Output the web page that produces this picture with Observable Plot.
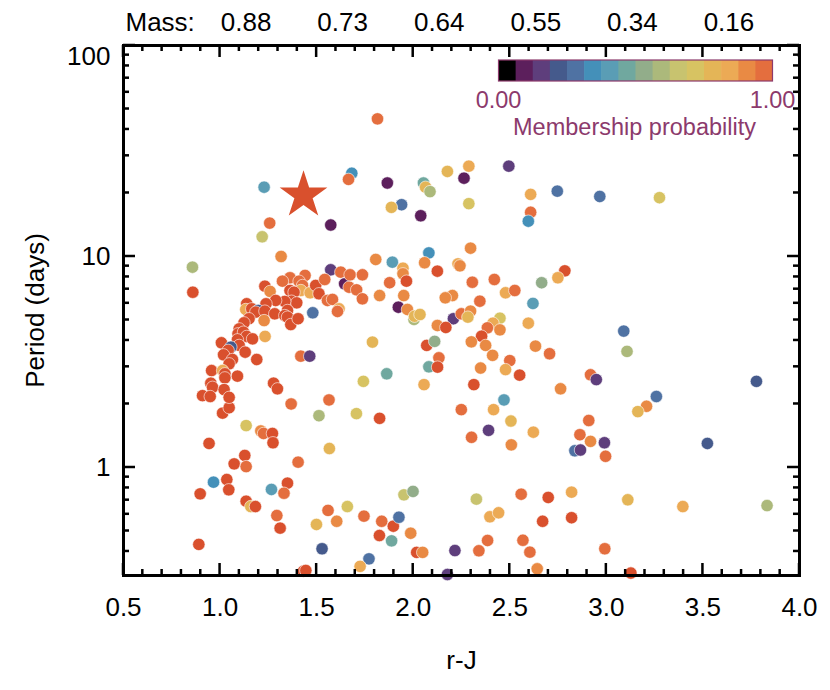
<!DOCTYPE html>
<html><head><meta charset="utf-8">
<script src="https://cdn.jsdelivr.net/npm/d3@7"></script>
<script src="https://cdn.jsdelivr.net/npm/@observablehq/plot@0.6"></script>
<style>
body{margin:0;background:#fff}
#chart{width:830px;height:690px}
</style>
</head><body><div id="chart"></div>
<script>
// ---- data ----
const rJ = [
1.815,1.228,1.682,1.665,1.866,2.053,2.064,2.087,2.177,2.263,
2.288,1.940,1.887,2.039,2.288,1.257,1.573,1.218,1.316,0.857,
0.859,1.806,1.892,1.947,2.081,2.059,2.297,2.495,2.608,2.746,
2.966,3.275,2.608,2.596,2.232,2.242,2.785,2.749,2.665,2.420,
2.306,2.478,2.526,2.203,2.166,2.345,2.620,2.208,2.249,2.297,
2.283,2.449,2.413,2.384,2.449,2.354,2.301,2.375,2.596,2.633,
3.090,3.107,2.918,2.948,2.763,3.259,3.208,3.163,2.909,3.777,
2.863,2.918,2.837,2.866,2.990,2.996,3.523,2.820,3.111,3.396,
3.832,2.820,2.992,3.127,1.706,1.826,2.249,2.416,2.470,2.506,
2.390,2.302,2.622,2.508,1.659,1.952,1.999,2.327,2.559,2.699,
1.745,1.837,1.897,1.926,1.825,1.888,1.987,2.397,2.442,2.670,
2.018,2.049,2.216,2.340,2.385,2.568,2.604,1.771,1.725,2.177,
2.642,1.013,1.047,1.368,1.564,1.512,1.135,1.211,1.225,1.271,
1.274,0.943,1.566,1.128,1.073,1.135,1.404,0.966,1.035,1.045,
0.897,1.266,1.349,1.331,1.135,1.159,1.183,1.294,1.311,1.559,
1.604,1.499,0.890,1.528,1.432,1.444,1.573,1.625,1.645,1.668,
1.362,1.323,1.440,1.409,1.427,1.418,1.466,1.495,1.542,1.512,
1.556,1.582,1.616,1.608,1.232,1.259,1.362,1.383,1.370,1.397,
1.335,1.288,1.238,1.138,1.133,1.164,1.197,1.185,1.232,1.283,
1.349,1.335,1.480,1.228,1.150,1.124,1.099,1.093,1.121,1.349,
1.366,1.404,1.138,1.168,1.233,1.090,1.099,1.007,1.056,1.042,
1.018,1.130,1.190,1.418,1.464,1.064,1.047,0.956,1.013,1.025,
1.025,1.090,0.952,0.961,0.909,0.949,1.021,1.047,1.277,1.297,
1.673,1.737,1.947,2.125,1.707,1.737,1.878,1.965,1.826,1.951,
1.923,1.970,2.004,2.007,2.035,2.125,2.169,2.070,2.111,2.411,
2.500,2.706,2.133,2.081,2.126,2.349,2.478,2.551,1.789,1.863,
1.742,2.056,2.314
];
const period = [
44.9,21.3,24.8,23.2,22.3,22.3,21.3,20.3,25.3,23.5,
26.8,17.6,17.1,15.6,17.8,14.4,14.1,12.4,10.0,8.9,
6.77,9.68,9.4,8.8,10.4,9.34,10.95,26.8,19.7,20.4,
19.25,19.0,16.2,14.7,9.23,9.03,8.55,7.93,7.51,7.78,
7.55,6.73,6.9,6.53,6.37,6.14,5.99,5.07,5.35,5.51,
5.16,5.1,4.83,4.59,4.49,4.19,3.94,3.79,4.83,3.76,
4.43,3.55,2.75,2.61,2.36,2.17,1.95,1.84,1.67,2.56,
1.43,1.33,1.20,1.21,1.31,1.13,1.30,0.764,0.703,0.653,
0.66,0.578,0.412,0.316,1.80,1.71,1.88,1.88,2.09,1.66,
1.50,1.39,1.47,1.28,0.653,0.742,0.77,0.708,0.747,0.721,
0.588,0.556,0.527,0.581,0.476,0.449,0.488,0.584,0.61,0.556,
0.396,0.396,0.404,0.403,0.451,0.452,0.397,0.369,0.34,0.311,
0.331,1.81,1.92,2.0,2.09,1.76,1.58,1.49,1.45,1.45,
1.31,1.30,1.23,1.14,1.04,1.01,1.06,0.852,0.877,0.784,
0.75,0.787,0.843,0.755,0.692,0.653,0.653,0.592,0.516,0.626,
0.556,0.537,0.432,0.412,0.3226,0.325,8.65,8.43,7.42,7.15,
7.93,7.64,8.13,7.64,7.29,6.9,6.73,7.29,7.78,6.66,
6.19,6.26,5.65,5.49,7.23,6.83,6.9,6.77,6.14,6.03,
6.12,6.19,5.97,5.97,5.61,5.65,5.55,5.45,5.51,5.35,
5.55,5.25,5.41,4.97,5.07,4.85,4.54,4.30,4.38,5.16,
4.76,5.07,4.18,4.07,4.18,4.03,3.79,3.90,3.72,3.59,
3.42,3.52,3.25,3.37,3.37,3.25,3.10,2.88,2.88,2.78,
2.66,2.71,2.51,2.40,2.19,2.17,2.34,2.15,2.51,2.36,
8.19,8.19,8.28,8.52,6.95,6.30,7.51,7.64,6.53,6.53,
5.75,5.61,5.03,5.21,5.31,4.71,4.61,3.79,3.96,3.40,
3.21,3.46,3.31,3.00,2.99,2.96,2.91,2.74,3.93,2.78,
2.56,2.47,2.47
];
const prob = [
0.95,0.41,0.34,0.95,0.10,0.47,0.78,0.60,0.78,0.10,
0.84,0.28,0.78,0.10,0.72,0.95,0.10,0.66,0.90,0.62,
1,0.90,0.41,0.84,0.34,0.90,0.90,0.16,0.84,0.28,
0.28,0.72,0.95,0.34,0.84,0.90,1,0.84,0.53,0.95,
0.95,0.84,0.95,0.90,0.90,0.95,0.41,0.16,0.97,0.90,
0.78,0.72,0.84,0.95,0.90,1,0.90,0.90,0.84,0.90,
0.28,0.60,0.95,0.16,0.90,0.28,0.90,0.78,0.95,0.23,
0.95,0.90,0.28,0.16,0.16,0.96,0.23,0.84,0.78,0.84,
0.60,1,0.95,1,0.72,1,0.95,0.84,0.41,0.80,
0.16,0.95,0.84,0.88,0.74,0.66,0.53,0.68,0.95,1,
0.95,0.95,1,0.28,1,0.47,0.90,0.84,0.84,1,
1,0.90,0.16,0.95,0.95,0.95,0.95,0.28,0.84,0.16,
0.88,1,1,0.95,0.95,0.60,0.72,0.90,0.95,1,
1,1,0.78,1,1,0.96,0.95,0.34,1,1,
1,0.41,1,0.95,1,0.78,1,0.95,1,0.95,
0.88,0.78,1,0.22,1,1,0.16,0.95,0.10,0.95,
0.95,0.95,0.95,0.95,0.95,0.84,0.84,1,0.95,1,
0.95,0.95,0.84,0.95,1,0.90,1,1,1,1,
1,1,1,1,0.84,1,0.22,1,1,1,
1,1,0.28,0.88,1,1,1,1,1,1,
1,1,1,1,0.84,1,1,1,0.22,1,
1,1,1,0.95,0.16,1,1,1,0.84,1,
1,1,1,1,1,1,1,1,1,1,
0.95,0.95,0.90,1,0.97,0.95,0.95,1,0.90,0.90,
0.12,0.90,0.60,0.78,0.78,0.90,1,1,0.53,0.90,
0.95,0.95,0.95,0.47,1,0.90,0.84,1,0.78,0.47,
0.72,0.84,1
];
// the highlighted star
const starRJ = [1.432];
const starPeriod = [19.5];

// axes
const xTicks = [0.5, 1.0, 1.5, 2.0, 2.5, 3.0, 3.5, 4.0];
const xTickLabels = ["0.5", "1.0", "1.5", "2.0", "2.5", "3.0", "3.5", "4.0"];
const massTicks = [1.0, 1.5, 2.0, 2.5, 3.0, 3.5];
const massLabels = ["0.88", "0.73", "0.64", "0.55", "0.34", "0.16"];
const yTicks = [1, 10, 100];
const yTickLabels = ["1", "10", "100"];
const yMinorTicks = [0.4,0.5,0.6,0.7,0.8,0.9,2,3,4,5,6,7,8,9,20,30,40,50,60,70,80,90];
const xTitle = "r-J";
const yTitle = "Period (days)";
const massTitle = "Mass:";
const legendTitle = "Membership probability";
const legendTickLabels = ["0.00", "1.00"];

// colour bar (16 steps) and colour of certain members
const palette = ["#000000","#5c1f5c","#5e3e7c","#455a8c","#4f72a3","#4490b9","#5a9db5","#70a89f",
                 "#92ad8a","#acb97b","#c8c36f","#d7c362","#e4b557","#ecaa55","#e98a44","#e46e3e"];
const certainColor = "#d9502d";
const legendColor = "#8c3a6c";

// ---- build ----
const points = rJ.map((x, i) => ({rJ: x, period: period[i], prob: prob[i]}));
const stars = starRJ.map((x, i) => ({rJ: x, period: starPeriod[i]}));
const thresholds = d3.range(1, 16).map(i => i / 16).concat([0.985]);
const xLabel = new Map(xTicks.map((t, i) => [t, xTickLabels[i]]));
const massLabel = new Map(massTicks.map((t, i) => [t, massLabels[i]]));
const yLabel = new Map(yTicks.map((t, i) => [t, yTickLabels[i]]));

function frameTicks(index, scales, values, dims) {
  const {x, y} = scales;
  const L = dims.marginLeft, R = dims.width - dims.marginRight;
  const T = dims.marginTop, B = dims.height - dims.marginBottom;
  const g = d3.create("svg:g").attr("stroke", "black").attr("stroke-width", 2.5).attr("fill", "none");
  const xMinor = d3.range(5, 41).map(i => i / 10).filter(v => !xTicks.some(t => Math.abs(t - v) < 1e-9));
  const vt = (v, len) => {
    const px = x(v);
    g.append("line").attr("x1", px).attr("x2", px).attr("y1", B).attr("y2", B - len);
    g.append("line").attr("x1", px).attr("x2", px).attr("y1", T).attr("y2", T + len);
  };
  const ht = (v, len) => {
    const py = y(v);
    g.append("line").attr("y1", py).attr("y2", py).attr("x1", L).attr("x2", L + len);
    g.append("line").attr("y1", py).attr("y2", py).attr("x1", R).attr("x2", R - len);
  };
  xTicks.forEach(v => vt(v, 12));
  xMinor.forEach(v => vt(v, 6));
  yTicks.forEach(v => ht(v, 12));
  yMinorTicks.forEach(v => ht(v, 6));
  return g.node();
}

function colorBar(index, scales, values, dims) {
  const g = d3.create("svg:g");
  const x0 = 498.5, y0 = 60, w = 274, h = 21, n = palette.length;
  const s = d3.scaleLinear().domain([0, 1]).range([x0, x0 + w]);
  palette.forEach((c, i) => {
    g.append("rect").attr("x", s(i / n)).attr("y", y0)
      .attr("width", w / n + (i < n - 1 ? 0.6 : 0)).attr("height", h).attr("fill", c);
  });
  g.append("rect").attr("x", x0).attr("y", y0).attr("width", w).attr("height", h)
    .attr("fill", "none").attr("stroke", legendColor).attr("stroke-width", 1.2);
  [0, 1].forEach((v, i) => {
    g.append("text").attr("x", s(v)).attr("y", y0 + h + 27).attr("text-anchor", "middle")
      .attr("fill", legendColor).attr("font-size", 23.5).text(legendTickLabels[i]);
  });
  g.append("text").attr("x", s(0.5) - 1).attr("y", y0 + h + 54).attr("text-anchor", "middle")
    .attr("fill", legendColor).attr("font-size", 23.5).text(legendTitle);
  return g.node();
}

const chart = Plot.plot({
  width: 830,
  height: 690,
  marginLeft: 123,
  marginRight: 31,
  marginTop: 45,
  marginBottom: 115,
  style: {fontFamily: "'Liberation Sans', Arial, Helvetica, sans-serif", fontSize: "26px", color: "black", background: "white", overflow: "visible"},
  x: {domain: [0.5, 4.0]},
  y: {type: "log", domain: [0.3077, 100]},
  color: {type: "threshold", domain: thresholds, range: [...palette, certainColor]},
  marks: [
    Plot.dot(points, {x: "rJ", y: "period", fill: "prob", r: 6.2, stroke: "white", strokeWidth: 0.6}),
    Plot.dot(stars, {x: "rJ", y: "period", symbol: "star", r: 15, fill: certainColor}),
    Plot.frame({stroke: "black", strokeWidth: 3}),
    frameTicks,
    Plot.axisX(xTicks, {anchor: "bottom", label: null, tickSize: 0, tickPadding: 22, tickFormat: d => xLabel.get(d)}),
    Plot.axisX(massTicks, {anchor: "top", label: null, tickSize: 0, tickPadding: 15, dx: 26, tickFormat: d => massLabel.get(d)}),
    Plot.axisY([1, 10], {anchor: "left", label: null, tickSize: 0, tickPadding: 13, tickFormat: d => yLabel.get(d)}),
    Plot.axisY([100], {anchor: "left", label: null, tickSize: 0, tickPadding: 13, dy: 11, tickFormat: d => yLabel.get(d)}),
    Plot.text([massTitle], {text: d => d, frameAnchor: "top-left", textAnchor: "start", lineAnchor: "bottom", dx: 2, dy: -15}),
    Plot.text([xTitle], {text: d => d, frameAnchor: "bottom", textAnchor: "middle", lineAnchor: "middle", dy: 85}),
    Plot.text([yTitle], {text: d => d, frameAnchor: "left", textAnchor: "middle", rotate: -90, lineAnchor: "middle", dx: -88}),
    colorBar
  ]
});
document.getElementById("chart").appendChild(chart);
</script>
</body></html>
